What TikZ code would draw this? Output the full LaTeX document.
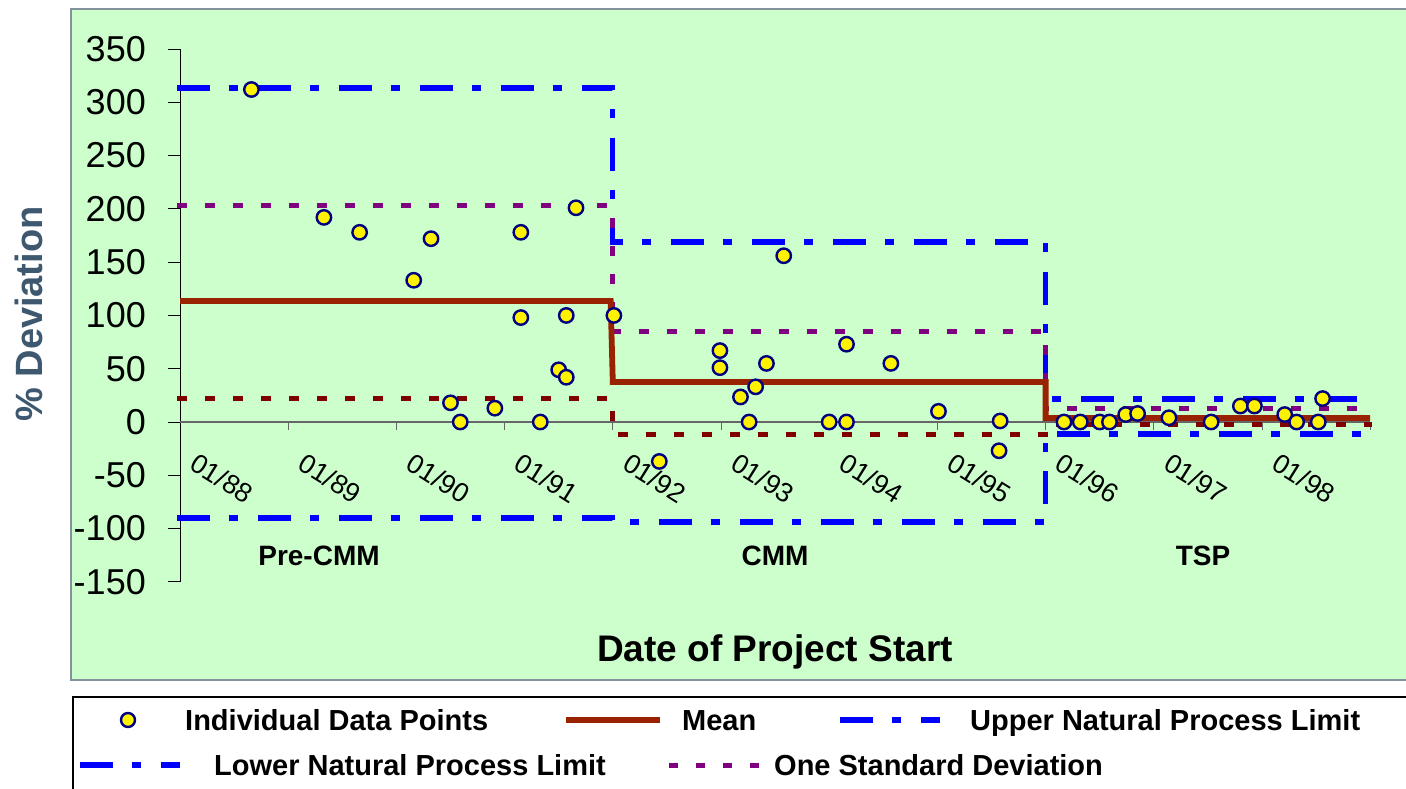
\documentclass[tikz,border=0pt]{standalone}
\usepackage{fontspec}
\setmainfont{Liberation Sans}
\definecolor{plotbg}{RGB}{204,255,204}
\definecolor{framegray}{RGB}{130,145,155}
\definecolor{meanred}{RGB}{153,34,0}
\definecolor{stdpurple}{RGB}{128,0,128}
\definecolor{stdmaroon}{RGB}{128,0,0}
\definecolor{limitblue}{RGB}{0,0,255}
\definecolor{ptborder}{RGB}{0,0,128}
\definecolor{titleslate}{RGB}{62,88,112}
\tikzset{
  limitline/.style={limitblue, line width=5.2pt, dash pattern=on 33pt off 19pt on 9pt off 20pt},
  meanline/.style={meanred, line width=5.8pt},
  stdupper/.style={stdpurple, line width=5pt, dash pattern=on 10pt off 18pt},
  stdlower/.style={stdmaroon, line width=5pt, dash pattern=on 10pt off 18pt},
  datapt/.style={fill=yellow, draw=ptborder, line width=2.4pt},
  ylabel/.style={font=\fontsize{36}{40}\selectfont, anchor=east, inner sep=0pt},
  datelabel/.style={font=\fontsize{27}{30}\selectfont, rotate=-32, inner sep=0pt},
  phaselabel/.style={font=\fontsize{28}{32}\selectfont\bfseries, inner sep=0pt},
  legtext/.style={font=\fontsize{29}{34}\selectfont\bfseries, anchor=base west, inner sep=0pt},
}
\begin{document}
\begin{tikzpicture}[x=1pt,y=-1pt]
\useasboundingbox (0,0) rectangle (1406,788);
\fill[white] (0,0) rectangle (1406,788);

% chart area
\draw[fill=plotbg, draw=framegray, line width=1.5pt] (71,9) rectangle (1415,680);

% axis titles
\node[font=\fontsize{38}{42}\selectfont\bfseries, text=titleslate, rotate=90, inner sep=0pt] (ytitle) at (29,314) {\% Deviation};
\node[font=\fontsize{37}{42}\selectfont\bfseries, anchor=base, inner sep=0pt] (xtitle) at (775,661) {Date of Project Start};

% phase names
\node[phaselabel] (prec) at (319,556) {Pre-CMM};
\node[phaselabel] (cmm) at (775,556) {CMM};
\node[phaselabel] (tsp) at (1203,556) {TSP};

% data coordinates: x in years from 01/88, y in % deviation
\begin{scope}[shift={(180,422)}, x=108.2pt, y=1.0657pt]
  % axes
  \draw[black, line width=1pt] (0,-150) -- (0,350);
  \foreach \v in {-150,-100,...,350} {
    \draw[black, line width=1pt] (0,\v) -- ++(-12pt,0pt);
    \node[ylabel] at (0,\v) [xshift=-34pt] {\v};
  }
  \draw[black!60, line width=1.2pt] (0,0) -- (11,0);
  \foreach \t in {1,...,11} \draw[black!60, line width=1pt] (\t,0) -- ++(0pt,-8pt);
  \foreach \t/\lab in {0/01\slash 88,1/01\slash 89,2/01\slash 90,3/01\slash 91,4/01\slash 92,5/01\slash 93,6/01\slash 94,7/01\slash 95,8/01\slash 96,9/01\slash 97,10/01\slash 98}
    \node[xshift=42pt, yshift=-56pt, datelabel] at (\t,0) {\lab};

  % natural process limits
  \draw[limitline] (-0.03,313.4) -- (4,313.4) -- (4,168.9) -- (8,168.9) -- (8,21.6) -- (11.02,21.6);
  \draw[limitline] (-0.03,-90) -- (4,-90) -- (4,-93.8) -- (8,-93.8) -- (8,-11.3) -- (11.02,-11.3);

  % one standard deviation band
  \draw[stdupper] (-0.03,202.7) -- (4,202.7) -- (4,84.5) -- (8,84.5) -- (8,13.1) -- (11.02,13.1);
  \draw[stdlower] (-0.03,21.6) -- (4,21.6) -- (4,-11.3) -- (8,-11.3) -- (8,-2.5) -- (11.02,-2.5);

  % mean
  \draw[meanline] (0,113.5) -- (3.98,113.5) -- (4.0,37.5) -- (8,37.5) -- (8,3.8) -- (11,3.8);

  % individual projects
  \foreach \t/\v in {
    0.66/312, 1.33/192, 1.66/178, 2.16/133, 2.32/172, 2.50/18, 2.59/0, 2.91/13,
    3.15/178, 3.15/98, 3.33/0, 3.50/49, 3.57/100, 3.57/42, 3.66/201, 4.01/100,
    4.43/-37, 4.99/67, 4.99/51, 5.18/23.5, 5.26/0, 5.32/33, 5.42/55, 5.58/156,
    6.00/0, 6.16/0, 6.16/73, 6.57/55, 7.01/10, 7.58/1, 7.57/-27,
    8.17/0, 8.32/0, 8.50/0, 8.59/0, 8.74/7, 8.85/8, 9.14/4, 9.53/0,
    9.80/15, 9.93/15, 10.21/7, 10.32/0, 10.52/0, 10.56/22}
    \filldraw[datapt] (\t,\v) circle[radius=7.2pt];
\end{scope}

% legend
\draw[fill=white, draw=black, line width=1.5pt] (73,697) rectangle (1415,800);
\filldraw[datapt] (128,720) circle[radius=7pt];
\node[legtext] (lpts) at (185,730.4) {Individual Data Points};
\coordinate (lmeanA) at (566,720);
\coordinate (lmeanB) at (660,720);
\draw[meanline] (lmeanA) -- (lmeanB);
\node[legtext] (lmean) at (682,730.4) {Mean};
\coordinate (lupA) at (840,720);
\coordinate (lupB) at (940,720);
\draw[limitline] (lupA) -- (lupB);
\node[legtext] (lup) at (970,730.4) {Upper Natural Process Limit};
\coordinate (llowA) at (80,765);
\coordinate (llowB) at (180,765);
\draw[limitline] (llowA) -- (llowB);
\node[legtext] (llow) at (214,775.4) {Lower Natural Process Limit};
\coordinate (lstdA) at (669,765);
\coordinate (lstdB) at (763,765);
\draw[stdupper, dash pattern=on 9pt off 18pt] (lstdA) -- (lstdB);
\node[legtext] (lstd) at (774,775.4) {One Standard Deviation};
\end{tikzpicture}
\end{document}
